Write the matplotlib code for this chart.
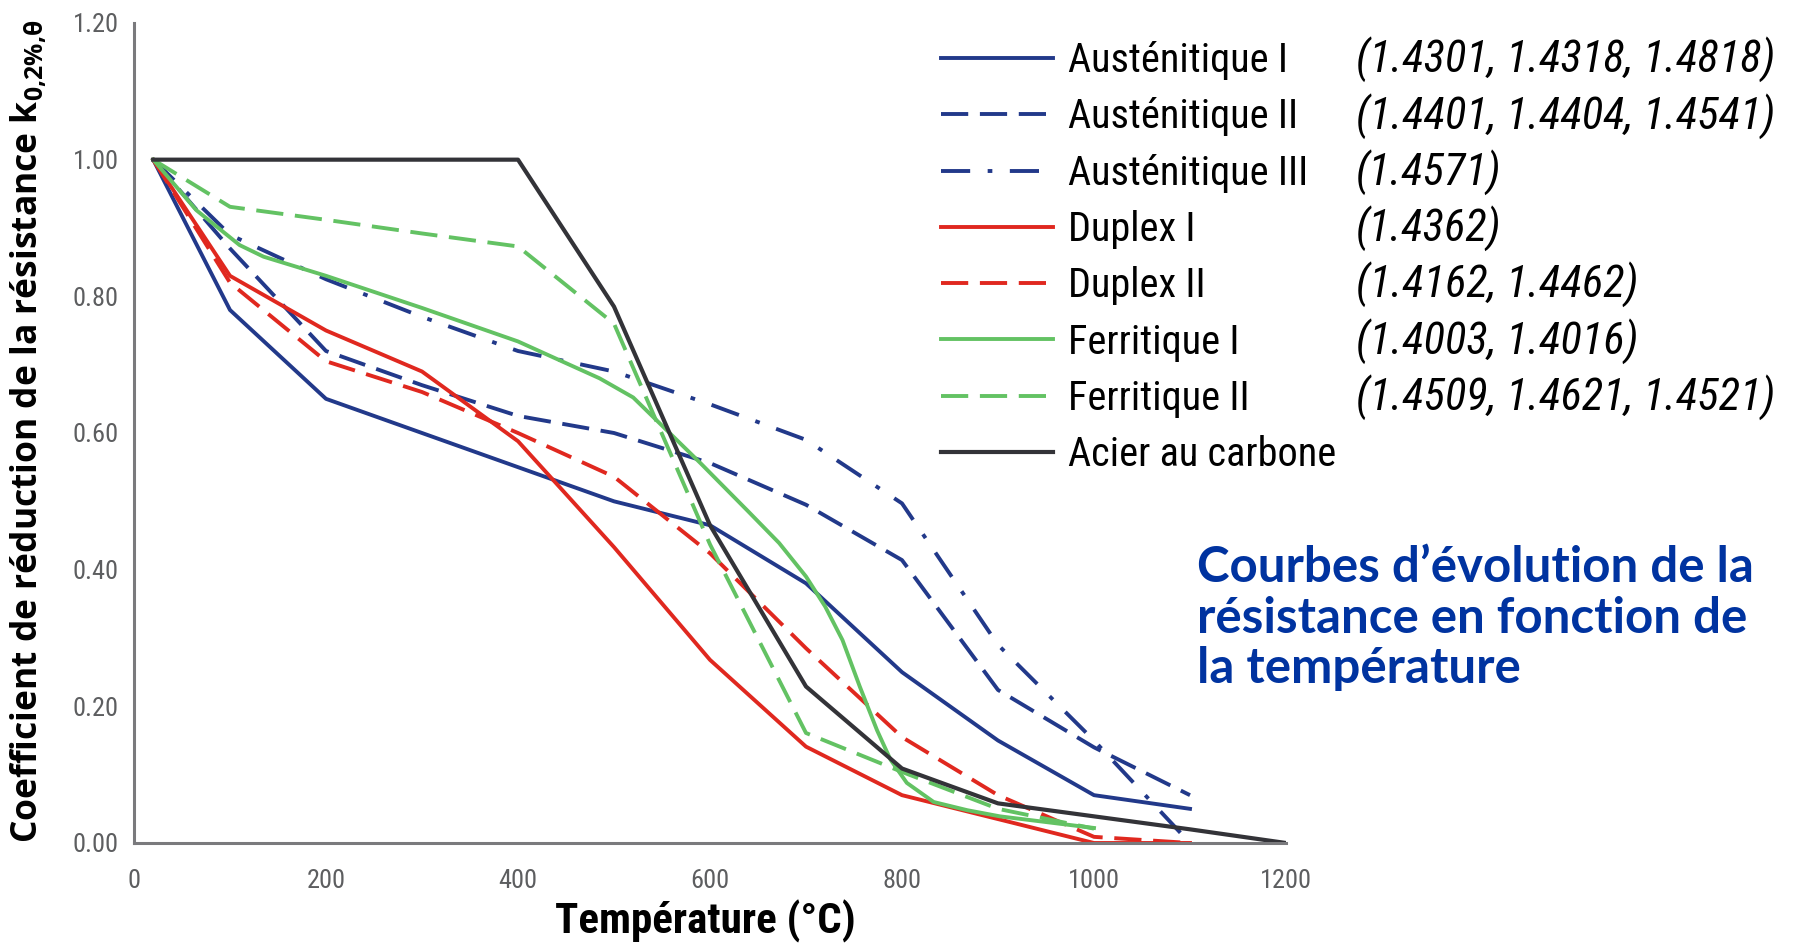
import matplotlib
matplotlib.use('Agg')
import matplotlib.pyplot as plt
from matplotlib import font_manager

# fonts: a narrow sans for ticks / legend if we have one
installed = {f.name for f in font_manager.fontManager.ttflist}
narrow = 'Liberation Sans Narrow'
if narrow not in installed:
    narrow = 'Roboto Condensed' if 'Roboto Condensed' in installed else 'Liberation Sans'

plt.rcParams['mathtext.fontset'] = 'custom'
plt.rcParams['mathtext.bf'] = 'Open Sans:bold'
plt.rcParams['mathtext.rm'] = 'Open Sans:bold'

# temperatures (°C)
temp = [20, 100, 200, 300, 400, 500, 600, 700, 800, 900, 1000, 1100]
temp_ferr2 = [20, 100, 200, 300, 400, 500, 600, 700, 800, 900, 1000]
temp_carbon = [20, 100, 200, 300, 400, 500, 600, 700, 800, 900, 1000, 1100, 1200]
temp_ferr1 = [20, 65, 110, 135, 200, 300, 400, 485, 520, 555, 590, 640, 672,
              700, 720, 738, 756, 774, 788, 805, 833, 868, 902, 1000]

# reduction factors k0,2%,theta
aust1 = [1.00, 0.78, 0.65, 0.60, 0.55, 0.50, 0.465, 0.38, 0.25, 0.15, 0.07, 0.05]
aust2 = [1.00, 0.87, 0.72, 0.67, 0.625, 0.60, 0.556, 0.495, 0.414, 0.224, 0.14, 0.07]
aust3 = [1.00, 0.89, 0.825, 0.77, 0.72, 0.69, 0.642, 0.59, 0.497, 0.29, 0.15, 0.00]
duplex1 = [1.00, 0.83, 0.75, 0.69, 0.588, 0.433, 0.268, 0.141, 0.07, 0.035, 0.00, 0.00]
duplex2 = [1.00, 0.82, 0.705, 0.66, 0.60, 0.536, 0.424, 0.285, 0.155, 0.07, 0.009, 0.00]
ferr1 = [1.00, 0.926, 0.875, 0.858, 0.830, 0.783, 0.734, 0.680, 0.652, 0.604, 0.556,
         0.485, 0.439, 0.390, 0.346, 0.297, 0.229, 0.165, 0.122, 0.088, 0.060,
         0.048, 0.039, 0.022]
ferr2 = [1.00, 0.931, 0.912, 0.892, 0.873, 0.76, 0.437, 0.161, 0.104, 0.05, 0.021]
carbon = [1.00, 1.00, 1.00, 1.00, 1.00, 0.785, 0.465, 0.229, 0.109, 0.058, 0.039, 0.02, 0.0]

names = ['Austénitique I', 'Austénitique II', 'Austénitique III', 'Duplex I',
         'Duplex II', 'Ferritique I', 'Ferritique II', 'Acier au carbone']
codes = ['(1.4301, 1.4318, 1.4818)', '(1.4401, 1.4404, 1.4541)', '(1.4571)',
         '(1.4362)', '(1.4162, 1.4462)', '(1.4003, 1.4016)',
         '(1.4509, 1.4621, 1.4521)', '']

blue = '#22398a'
red = '#e0281f'
green = '#63c263'
dark = '#333338'
dashed = (0, (7, 3))
dashdot = (0, (7.5, 4.5, 1.2, 4.5))

fig = plt.figure(figsize=(18, 9.44), dpi=100)
ax = fig.add_axes([134 / 1800, 1 - 843 / 944, 1152 / 1800, 820 / 944])

lw = 2.8
ax.plot(temp, aust1, color=blue, lw=lw, label=names[0])
ax.plot(temp, aust2, color=blue, lw=lw, ls=dashed, label=names[1])
ax.plot(temp, aust3, color=blue, lw=lw, ls=dashdot, label=names[2])
ax.plot(temp, duplex1, color=red, lw=lw, label=names[3])
ax.plot(temp, duplex2, color=red, lw=lw, ls=dashed, label=names[4])
ax.plot(temp_ferr1, ferr1, color=green, lw=lw, label=names[5])
ax.plot(temp_ferr2, ferr2, color=green, lw=lw, ls=dashed, label=names[6])
ax.plot(temp_carbon, carbon, color=dark, lw=3.0, label=names[7])

ax.set_xlim(0, 1200)
ax.set_ylim(0, 1.2)
ax.set_xticks(range(0, 1201, 200))
ax.set_yticks([0, 0.2, 0.4, 0.6, 0.8, 1.0, 1.2])
ax.set_yticklabels(['%.2f' % v for v in ax.get_yticks()])
for side in ['top', 'right']:
    ax.spines[side].set_visible(False)
for side in ['left', 'bottom']:
    ax.spines[side].set_color('#7a7a7d')
    ax.spines[side].set_linewidth(2.2)
ax.tick_params(length=0, labelsize=19, labelcolor='#5d5e60')
ax.tick_params(axis='x', pad=19)
ax.tick_params(axis='y', pad=11)
for lab in ax.get_xticklabels() + ax.get_yticklabels():
    lab.set_family(narrow)

ax.set_ylabel(r'Coefficient de réduction de la résistance k$_{\mathbf{0{,}2\%{,}θ}}$',
              family='Open Sans', fontweight='bold', fontsize=25.5, color='black')
ax.yaxis.set_label_coords(-0.0747, 0.502)
ax.set_xlabel('Température (°C)', family=narrow, fontweight='bold', fontsize=31,
              color='black', va='center')
ax.xaxis.set_label_coords(0.496, -0.096)

leg = ax.legend(loc='upper left', bbox_to_anchor=(941 / 1800, 1 - 41 / 944),
                bbox_transform=fig.transFigure, frameon=False,
                prop={'family': narrow, 'size': 29}, handlelength=2.78,
                handletextpad=0.37, labelspacing=0.43, borderpad=0, borderaxespad=0)

# material grades, aligned with the legend rows
fig.canvas.draw()
renderer = fig.canvas.get_renderer()
for txt, code in zip(leg.get_texts(), codes):
    if not code:
        continue
    bb = txt.get_window_extent(renderer)
    _, _, descent = renderer.get_text_width_height_descent(
        txt.get_text(), txt.get_fontproperties(), ismath=False)
    base = (bb.y0 + descent) / fig.bbox.height
    fig.text(1356 / 1800, base, code, family=narrow, style='italic', fontsize=32,
             va='baseline', ha='left', color='black')

fig.text(1197 / 1800, 1 - 545 / 944,
         'Courbes d’évolution de la\nrésistance en fonction de\nla température',
         family='Lato', fontweight='bold', fontsize=35.5, color='#0033a0',
         va='top', ha='left', linespacing=1.15)

fig.savefig('out.png', dpi=100)
